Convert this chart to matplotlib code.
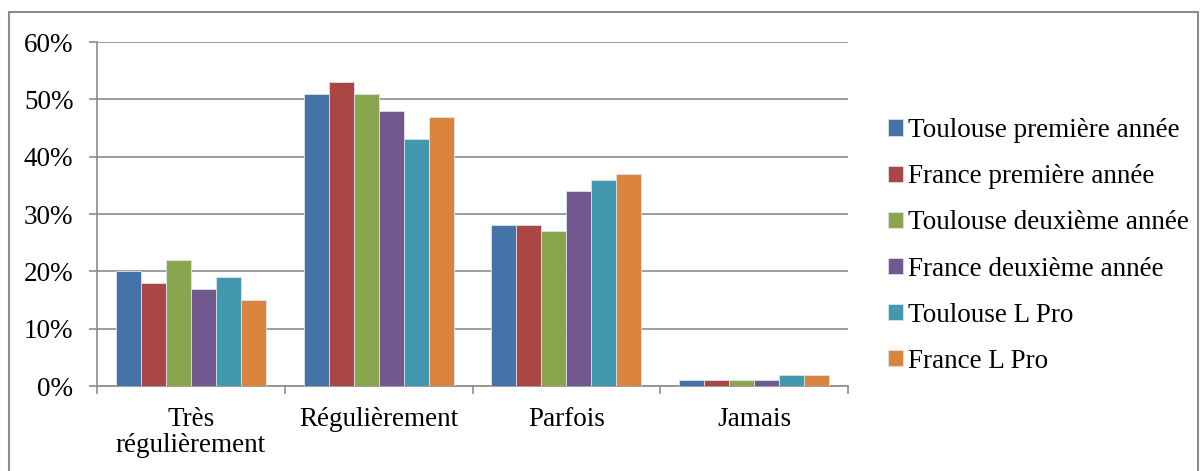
import numpy as np
import matplotlib
matplotlib.use("Agg")
import matplotlib.pyplot as plt
from matplotlib.patches import Rectangle
from matplotlib.ticker import PercentFormatter

plt.rcParams['font.family'] = ['Liberation Serif', 'DejaVu Serif']

# data (percent)
categories = ["Très\nrégulièrement", "Régulièrement", "Parfois", "Jamais"]
series_names = ["Toulouse première année", "France première année",
                "Toulouse deuxième année", "France deuxième année",
                "Toulouse L Pro", "France L Pro"]
toulouse_1 = [20, 51, 28, 1]
france_1 = [18, 53, 28, 1]
toulouse_2 = [22, 51, 27, 1]
france_2 = [17, 48, 34, 1]
toulouse_lpro = [19, 43, 36, 2]
france_lpro = [15, 47, 37, 2]
colors = ["#4572A7", "#AA4643", "#89A54E", "#71588F", "#4198AF", "#DB843D"]

all_series = [toulouse_1, france_1, toulouse_2, france_2, toulouse_lpro, france_lpro]

fs = 19.5

fig = plt.figure(figsize=(12.02, 4.71), dpi=100)
ax = fig.add_axes([97/1202, 1 - 386/471, 751/1202, 344/471])

x = np.arange(len(categories))
n = len(all_series)
w = 0.8 / n
for i, (vals, name, c) in enumerate(zip(all_series, series_names, colors)):
    ax.bar(x - 0.4 + w * (i + 0.5), vals, width=w, color=c, label=name,
           edgecolor="#dde3ea", linewidth=0.6, zorder=3)

gray = "#8c8c8c"
ax.set_xlim(-0.5, len(categories) - 0.5)
ax.set_ylim(0, 60)
ax.set_yticks(range(0, 61, 10))
ax.yaxis.set_major_formatter(PercentFormatter(decimals=0))
ax.grid(axis='y', color=gray, linewidth=1.2, zorder=0)
ax.set_xticks(x)
ax.set_xticklabels(categories, fontsize=fs, linespacing=1.05)
ax.set_xticks(np.arange(-0.5, len(categories), 1), minor=True)
ax.tick_params(axis='x', which='major', length=0, pad=15)
ax.tick_params(axis='x', which='minor', length=6, color=gray, width=1.2)
ax.tick_params(axis='y', length=6, color=gray, width=1.2, pad=11, labelsize=fs)
for s in ['top', 'right']:
    ax.spines[s].set_visible(False)
for s in ['left', 'bottom']:
    ax.spines[s].set_color(gray)
    ax.spines[s].set_linewidth(1.2)

fig.legend(loc='center left', bbox_to_anchor=(877/1202, 1 - 246/471),
           frameon=False, fontsize=fs, handlelength=0.55, handleheight=0.55,
           handletextpad=0.2, labelspacing=0.78, borderaxespad=0)

fig.patches.append(Rectangle((9/1202, -0.05), 1189/1202, 1.05 - 12/471,
                             transform=fig.transFigure, fill=False,
                             edgecolor=gray, linewidth=1.5))

fig.savefig("out.png", dpi=100)
